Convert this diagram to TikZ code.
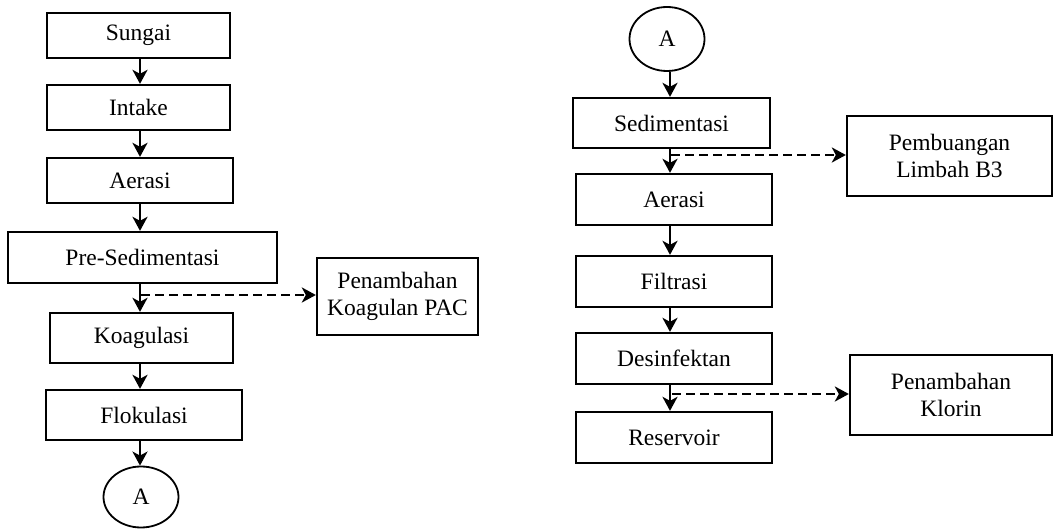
\documentclass[tikz,border=0pt]{standalone}
\usepackage{fontspec}
\setmainfont{Liberation Serif}
\usetikzlibrary{arrows.meta,shapes.geometric}
\begin{document}
\begin{tikzpicture}[x=1pt, y=-1pt,
        every node/.style = {font=\fontsize{23.5}{27}\selectfont, align=center},
        procbox/.style = {shape=rectangle, draw, line width=2.3pt,
            inner sep=0pt},
        connector/.style = {shape=ellipse, draw, line width=1.8pt,
            inner sep=0pt},
        flow/.style = {line width=2.6pt,
            -{Stealth[length=14pt, width=15pt, inset=4pt]}},
        addflow/.style = {flow, dash pattern=on 9pt off 5pt}]
    \useasboundingbox (0,0) rectangle (1053,529);
    % left column
    \node[procbox, minimum width=183pt, minimum height=45pt] (sungai) at (138.5,35.5) {Sungai};
    \node[procbox, minimum width=183pt, minimum height=45pt] (intake) at (138.5,107.5) {Intake};
    \node[procbox, minimum width=186pt, minimum height=45pt] (aerasiL) at (140,180.5) {Aerasi};
    \node[procbox, minimum width=269pt, minimum height=51pt] (presed) at (142.5,257.5) {Pre-Sedimentasi};
    \node[procbox, minimum width=183pt, minimum height=50pt] (koagulasi) at (141.5,338) {Koagulasi};
    \node[procbox, minimum width=196pt, minimum height=50pt] (flokulasi) at (144,415) {Flokulasi};
    \node[connector, minimum width=75pt, minimum height=61pt] (konA) at (141,497) {A};
    \node[procbox, minimum width=161pt, minimum height=77pt] (pac) at (397.5,296.5) {Penambahan\\Koagulan PAC};
    % right column
    \node[connector, minimum width=75pt, minimum height=64pt] (konB) at (667,39) {A};
    \node[procbox, minimum width=197pt, minimum height=50pt] (sedimentasi) at (671.5,123) {Sedimentasi};
    \node[procbox, minimum width=196pt, minimum height=51pt] (aerasiR) at (674,199.5) {Aerasi};
    \node[procbox, minimum width=196pt, minimum height=51pt] (filtrasi) at (674,281.5) {Filtrasi};
    \node[procbox, minimum width=196pt, minimum height=51pt] (desinfektan) at (674,358.5) {Desinfektan};
    \node[procbox, minimum width=196pt, minimum height=51pt] (reservoir) at (674,437.5) {Reservoir};
    \node[procbox, minimum width=205pt, minimum height=80pt] (limbah) at (949.5,156) {Pembuangan\\Limbah B3};
    \node[procbox, minimum width=202pt, minimum height=80pt] (klorin) at (951,395) {Penambahan\\Klorin};
    % arrows left
    \coordinate (colL) at (140,0);
    \draw[flow] (colL |- sungai.south) -- (colL |- intake.north);
    \draw[flow] (colL |- intake.south) -- (colL |- aerasiL.north);
    \draw[flow] (colL |- aerasiL.south) -- (colL |- presed.north);
    \draw[flow] (colL |- presed.south) -- (colL |- koagulasi.north);
    \draw[flow] (colL |- koagulasi.south) -- (colL |- flokulasi.north);
    \draw[flow] (colL |- flokulasi.south) -- (colL |- konA.north);
    \coordinate (pacjoin) at (141,295);
    \draw[addflow] (pacjoin) -- (pacjoin -| pac.west);
    % arrows right
    \coordinate (colR) at (670,0);
    \draw[flow] (colR |- konB.south) -- (colR |- sedimentasi.north);
    \draw[flow] (colR |- sedimentasi.south) -- (colR |- aerasiR.north);
    \draw[flow] (colR |- aerasiR.south) -- (colR |- filtrasi.north);
    \draw[flow] (colR |- filtrasi.south) -- (colR |- desinfektan.north);
    \draw[flow] (colR |- desinfektan.south) -- (colR |- reservoir.north);
    \coordinate (limbahjoin) at (671,155);
    \draw[addflow] (limbahjoin) -- (limbahjoin -| limbah.west);
    \coordinate (klorinjoin) at (672,394);
    \draw[addflow] (klorinjoin) -- (klorinjoin -| klorin.west);
\end{tikzpicture}
\end{document}
